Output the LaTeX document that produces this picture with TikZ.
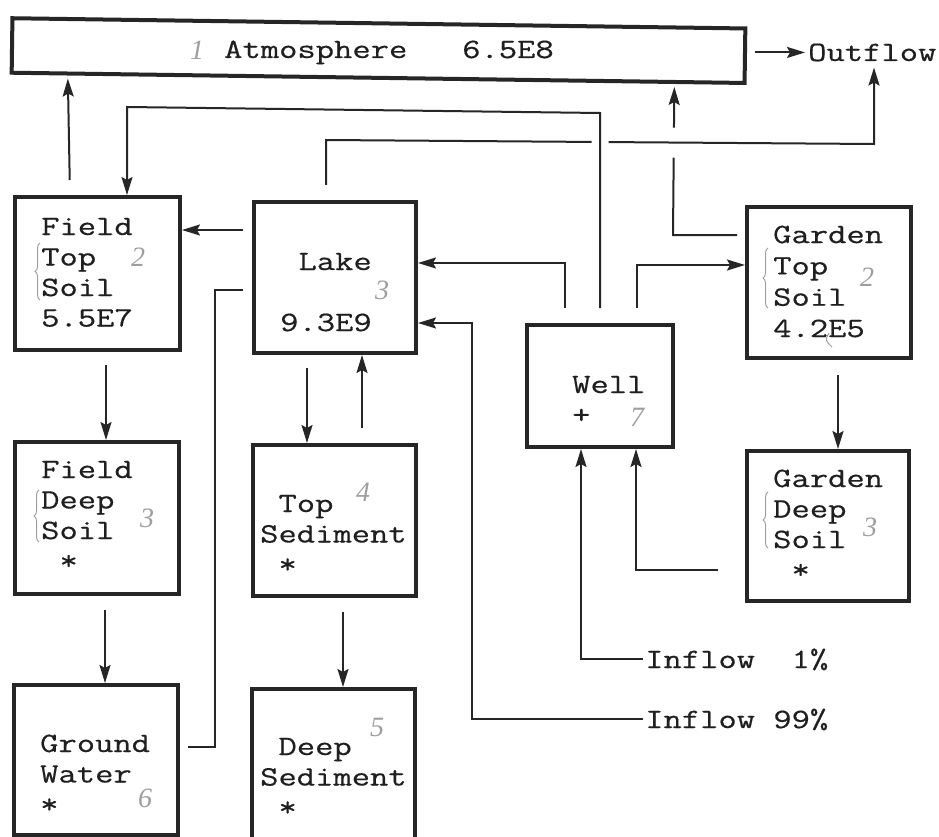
\documentclass[tikz,border=0pt]{standalone}
\usepackage{fontspec}
\newfontfamily\courfont{Latin Modern Mono}[FakeStretch=1.27, FakeBold=0.5]
\newfontfamily\handfont{Liberation Serif}
\usetikzlibrary{arrows.meta,decorations.pathreplacing,calc}
\pgfdeclarelayer{bg}
\pgfsetlayers{bg,main}
\begin{document}
\begin{tikzpicture}[x=1pt,y=-1pt,
  box/.style={draw=black!85, line width=4pt, rectangle, inner sep=0pt},
  conn/.style={draw=black!85, line width=2pt},
  arr/.style={conn, -{Stealth[length=18pt,width=11pt,inset=3pt]}},
  txt/.style={font=\courfont\fontsize{28}{30.5}\selectfont, text=black!88, inner sep=0pt, anchor=base west, align=left},
  lbl/.style={txt, inner xsep=3pt, inner ysep=6pt},
  hand/.style={font=\handfont\itshape\fontsize{28}{28}\selectfont, text=black!38, inner sep=0pt},
  handline/.style={draw=black!38, line width=1pt}
]
\useasboundingbox (0,0) rectangle (939,837);

% boxes
\node[box, minimum width=733pt, minimum height=54.5pt, rotate=-0.8] (atm) at (378.5,50.6) {};
\node[box, minimum width=165pt, minimum height=153pt] (ftop)  at (97.5,273.5) {};
\node[box, minimum width=162pt, minimum height=151pt] (lake)  at (335,277.5) {};
\node[box, minimum width=146pt, minimum height=122pt] (well)  at (600,386) {};
\node[box, minimum width=164pt, minimum height=151pt] (gtop)  at (829,282.5) {};
\node[box, minimum width=164pt, minimum height=152pt] (fdeep) at (97,518) {};
\node[box, minimum width=163pt, minimum height=151pt] (tsed)  at (334.5,520.5) {};
\node[box, minimum width=162pt, minimum height=150pt] (gdeep) at (828,526) {};
\node[box, minimum width=164pt, minimum height=150pt] (gw)    at (96,760) {};
\node[box, minimum width=163pt, minimum height=153pt] (dsed)  at (333.5,765.5) {};

% texts (base anchor = baseline of the last line)
\node[txt] (atmT)  at (224,58)  {Atmosphere\ \ \ 6.5E8};
\node[lbl] (outflow) at (805,61) {Outflow};
\node[txt] (ftopT)  at (41,326.5)  {Field\\Top\\Soil\\5.5E7};
\node[txt] (lakeT)  at (280,331) {\hphantom{X}Lake\\\mbox{}\\9.3E9};
\node[txt] (wellT)  at (572,423.5) {Well\\+};
\node[txt, font=\courfont\fontsize{28}{31.3}\selectfont] (gtopT)  at (773,337) {Garden\\Top\\Soil\\4.2E5};
\node[txt] (fdeepT) at (41,569.5)  {Field\\Deep\\Soil\\\hphantom{X}*};
\node[txt] (tsedT)  at (260,573) {\hphantom{X}Top\\Sediment\\\hphantom{X}*};
\node[txt] (gdeepT) at (773,578.5) {Garden\\Deep\\Soil\\\hphantom{X}*};
\node[txt] (gwT)    at (40,813)  {Ground\\Water\\*};
\node[txt] (dsedT)  at (260,816) {\hphantom{X}Deep\\Sediment\\\hphantom{X}*};
\node[lbl, inner xsep=2pt, inner ysep=0pt] (in1)  at (643,668) {Inflow\ \ 1\%};
\node[lbl, inner xsep=2pt, inner ysep=0pt] (in99) at (643,728) {Inflow\ 99\%};

% pencil marks
\node[hand] (h1) at (197,50) {1};
\node[hand] (h2) at (138,257) {2};
\node[hand] (h3) at (382,290) {3};
\node[hand] (h4) at (147,518) {3};
\node[hand] (h5) at (363,492) {4};
\node[hand] (h6) at (145,798) {6};
\node[hand] (h7) at (377,727) {5};
\node[hand] (h8) at (637,417) {7};
\node[hand] (h9) at (867,277) {2};
\node[hand] (h10) at (870,527) {3};
\draw[handline, decorate, decoration={brace, amplitude=5pt}] (40,300) -- (40,243);
\draw[handline, decorate, decoration={brace, amplitude=5pt}] (39,542) -- (39,490);
\draw[handline, decorate, decoration={brace, amplitude=5pt}] (768,308) -- (768,248);
\draw[handline, decorate, decoration={brace, amplitude=5pt}] (768,548) -- (768,492);
\draw[handline] (829,333) .. controls (825,340) .. (832,347);

% connectors
\begin{pgfonlayer}{bg}
\draw[arr, shorten <=15pt] (ftop.north -| 70,0) -- ($(atm.south west)!0.079!(atm.south east)+(0,3)$);
\draw[arr, shorten <=8pt] (atm.east |- outflow.west) -- (outflow.west);
\draw[arr, shorten <=8pt] (gtop.west |- 0,235) -- (673,235) -- ($(atm.south west)!0.902!(atm.south east)+(0,3)$);
\draw[arr, shorten <=15pt, preaction={draw=white, line width=30pt, arrows=-}] (lake.north -| 326,0) -- (326,140) -- (874,144) -- (outflow.south -| 874,0);
\draw[arr, shorten <=15pt, preaction={draw=white, line width=17pt, arrows=-}] (well.north -| 600,0) -- (600,113) -- (127,107) -- (ftop.north -| 127,0);
\draw[arr, shorten <=9pt] (lake.west |- 0,230) -- (ftop.east |- 0,230);
\draw[conn, shorten <=8pt, shorten >=9pt] (gw.east |- 0,747) -- (215,747) -- (215,290) -- (lake.west |- 0,290);
\draw[arr, shorten <=15pt] (well.north -| 565,0) -- (565,263) -- (lake.east |- 0,263);
\draw[arr] (in99.west) -- (in99.west -| 472,0) -- (472,323) -- (lake.east |- 0,323);
\draw[arr, shorten <=15pt] (well.north -| 637,0) -- (637,265) -- (gtop.west |- 0,265);
\draw[arr, shorten <=15pt] (gtop.south -| 838,0) -- (gdeep.north -| 838,0);
\draw[arr, shorten <=27pt] (gdeep.west |- 0,570) -- (636,570) -- (well.south -| 636,0);
\draw[arr] (in1.west) -- (in1.west -| 581,0) -- (well.south -| 581,0);
\draw[arr, shorten <=13pt] (ftop.south -| 106,0) -- (fdeep.north -| 106,0);
\draw[arr, shorten <=14pt] (fdeep.south -| 105,0) -- (gw.north -| 105,0);
\draw[arr, shorten <=13pt] (lake.south -| 307,0) -- (tsed.north -| 307,0);
\draw[arr, shorten <=15pt] (tsed.north -| 362,0) -- (lake.south -| 362,0);
\draw[arr, shorten <=14pt] (tsed.south -| 343,0) -- (dsed.north -| 343,0);
\end{pgfonlayer}
\end{tikzpicture}
\end{document}
